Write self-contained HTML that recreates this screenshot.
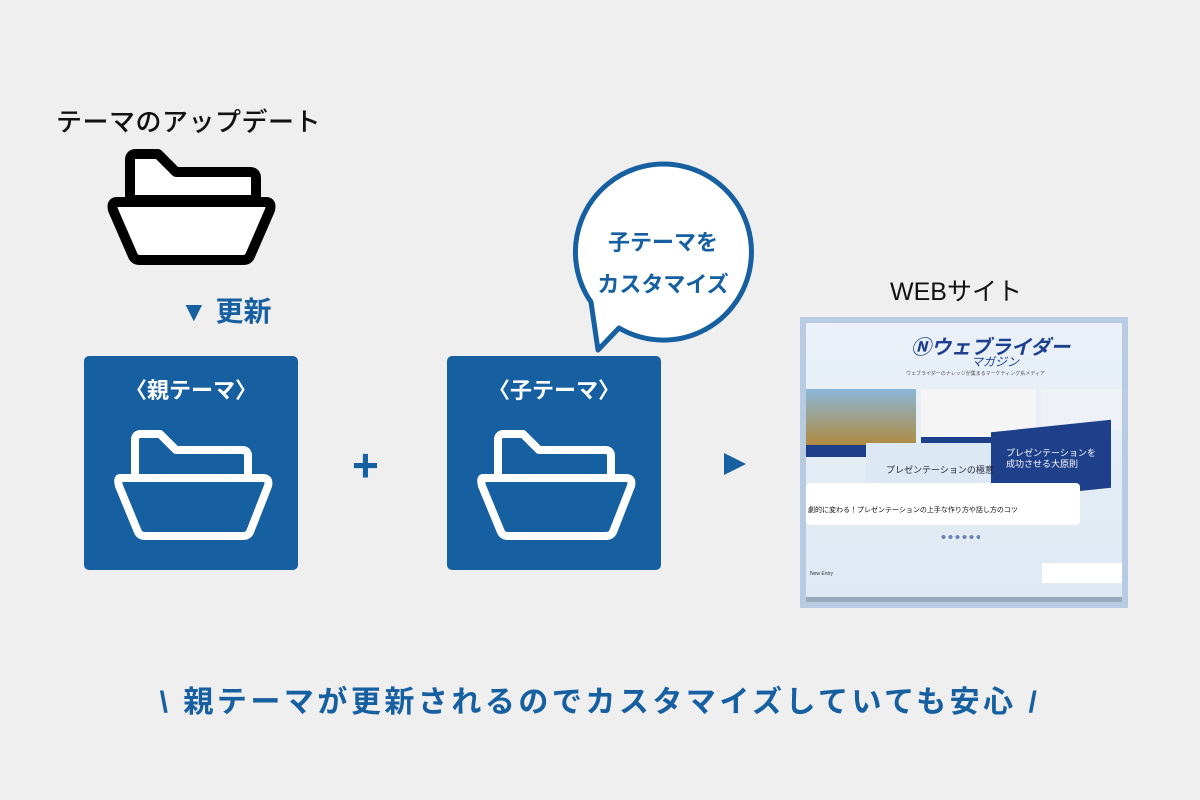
<!DOCTYPE html>
<html><head><meta charset="utf-8"><style>
body{margin:0;width:1200px;height:800px;background:#efefef;overflow:hidden;position:relative;font-family:"Liberation Sans","Noto Sans CJK JP",sans-serif}
.t{position:absolute;white-space:nowrap}
.box{position:absolute;background:#165fa1;border-radius:5px;width:214px;height:214px}
svg{position:absolute;left:0;top:0}
</style></head><body>
<div class="t" style="left:56px;top:102px;font-size:26px;color:#111;font-weight:500;letter-spacing:0.5px">テーマのアップデート</div>
<svg width="1200" height="800">
 <g fill="#fff" stroke="#000" stroke-width="10" stroke-linejoin="round">
  <path d="M130 200 V160 Q130 154 136 154 H158 L176 172 H250 Q256 172 256 178 V200 Z"/>
  <path d="M117 202 H266 Q272 202 270 210 L250 256 Q248 260 243 260 H140 Q135 260 133 256 L113 210 Q111 202 117 202Z"/>
 </g>
 <path d="M619 328 A88 88 0 1 0 591 302 L598 350 Z" fill="#fff" stroke="#165fa1" stroke-width="5" stroke-linejoin="round"/>
 <polygon points="724,453 746,464 724,475" fill="#165fa1"/>
 <rect x="803" y="320" width="322" height="285" fill="#e6eef6" stroke="#b7cbe3" stroke-width="6"/>
</svg>
<div class="t" style="left:180px;top:290px;font-size:28px;color:#165fa1;font-weight:bold">▼ 更新</div>
<div class="box" style="left:84px;top:356px"></div>
<div class="t" style="left:84px;top:373px;width:214px;text-align:center;font-size:22px;color:#fff;font-weight:bold">〈親テーマ〉</div>
<div class="t" style="left:352px;top:438px;font-size:46px;color:#165fa1;font-weight:bold">+</div>
<div class="box" style="left:447px;top:356px"></div>
<div class="t" style="left:447px;top:373px;width:214px;text-align:center;font-size:22px;color:#fff;font-weight:bold">〈子テーマ〉</div>
<svg width="1200" height="800">
 <g fill="none" stroke="#fff" stroke-width="8" stroke-linejoin="round">
  <path d="M135 476 V440 Q135 434 141 434 H160 L176 450 H242 Q248 450 248 456 V476"/>
  <path d="M120 478 H263 Q270 478 268 486 L250 532 Q248 536 243 536 H145 Q140 536 138 532 L119 486 Q117 478 120 478Z"/>
  <path d="M498 476 V440 Q498 434 504 434 H523 L539 450 H605 Q611 450 611 456 V476"/>
  <path d="M483 478 H626 Q633 478 631 486 L613 532 Q611 536 606 536 H508 Q503 536 501 532 L482 486 Q480 478 483 478Z"/>
 </g>
</svg>
<div class="t" style="left:575px;top:222px;width:176px;text-align:center;font-size:22px;line-height:42px;color:#165fa1;font-weight:bold">子テーマを<br>カスタマイズ</div>
<div class="t" style="left:890px;top:272px;font-size:25px;color:#111">WEBサイト</div>
<div style="position:absolute;left:806px;top:323px;width:316px;height:279px;overflow:hidden;background:linear-gradient(#eaf1f8,#dfe9f3)">
 <div class="t" style="left:105px;top:8px;font-size:20px;color:#1d3f8f;font-weight:bold;font-style:italic">Ⓝウェブライダー</div>
 <div class="t" style="left:165px;top:30px;font-size:12px;color:#1d3f8f;font-style:italic">マガジン</div>
 <div class="t" style="left:100px;top:47px;font-size:5px;color:#555">ウェブライダーのナレッジが集まるマーケティング系メディア</div>
 <div style="position:absolute;left:0;top:66px;width:110px;height:56px;background:linear-gradient(#8ab8d8,#b08a40);border-bottom:12px solid #1e3f8a"></div>
 <div style="position:absolute;left:115px;top:66px;width:115px;height:48px;background:#f5f5f5;border-bottom:10px solid #1e3f8a"></div>
 <div style="position:absolute;left:235px;top:66px;width:85px;height:40px;background:#eef2f8"></div>
 <div style="position:absolute;left:60px;top:120px;width:130px;height:46px;background:#dde8f5"></div>
 <div style="position:absolute;left:185px;top:103px;width:120px;height:68px;background:#1e3f8a;transform:skewY(-6deg)"></div>
 <div class="t" style="left:200px;top:125px;font-size:9px;color:#fff;line-height:11px">プレゼンテーションを<br>成功させる大原則</div>
 <div class="t" style="left:80px;top:140px;font-size:9px;color:#223">プレゼンテーションの極意</div>
 <div style="position:absolute;left:0;top:160px;width:274px;height:42px;background:#fff;border-radius:4px"></div>
 <div class="t" style="left:2px;top:182px;font-size:7px;color:#111">劇的に変わる！プレゼンテーションの上手な作り方や話し方のコツ</div>
 <div style="position:absolute;left:134px;top:212px;width:40px;height:4px;background:radial-gradient(circle,#1e3f8a 2px,transparent 2px) 0 0/7px 4px repeat-x;opacity:.6"></div>
 <div class="t" style="left:4px;top:248px;font-size:5px;color:#333">New Entry</div>
 <div style="position:absolute;left:236px;top:240px;width:80px;height:20px;background:#fff"></div>
 <div style="position:absolute;left:0;top:274px;width:316px;height:5px;background:#9ab"></div>
</div>
<div class="t" style="left:0;top:677px;width:1200px;text-align:center;font-size:30px;color:#165fa1;font-weight:bold;letter-spacing:3.5px">\ 親テーマが更新されるのでカスタマイズしていても安心 /</div>
</body></html>
